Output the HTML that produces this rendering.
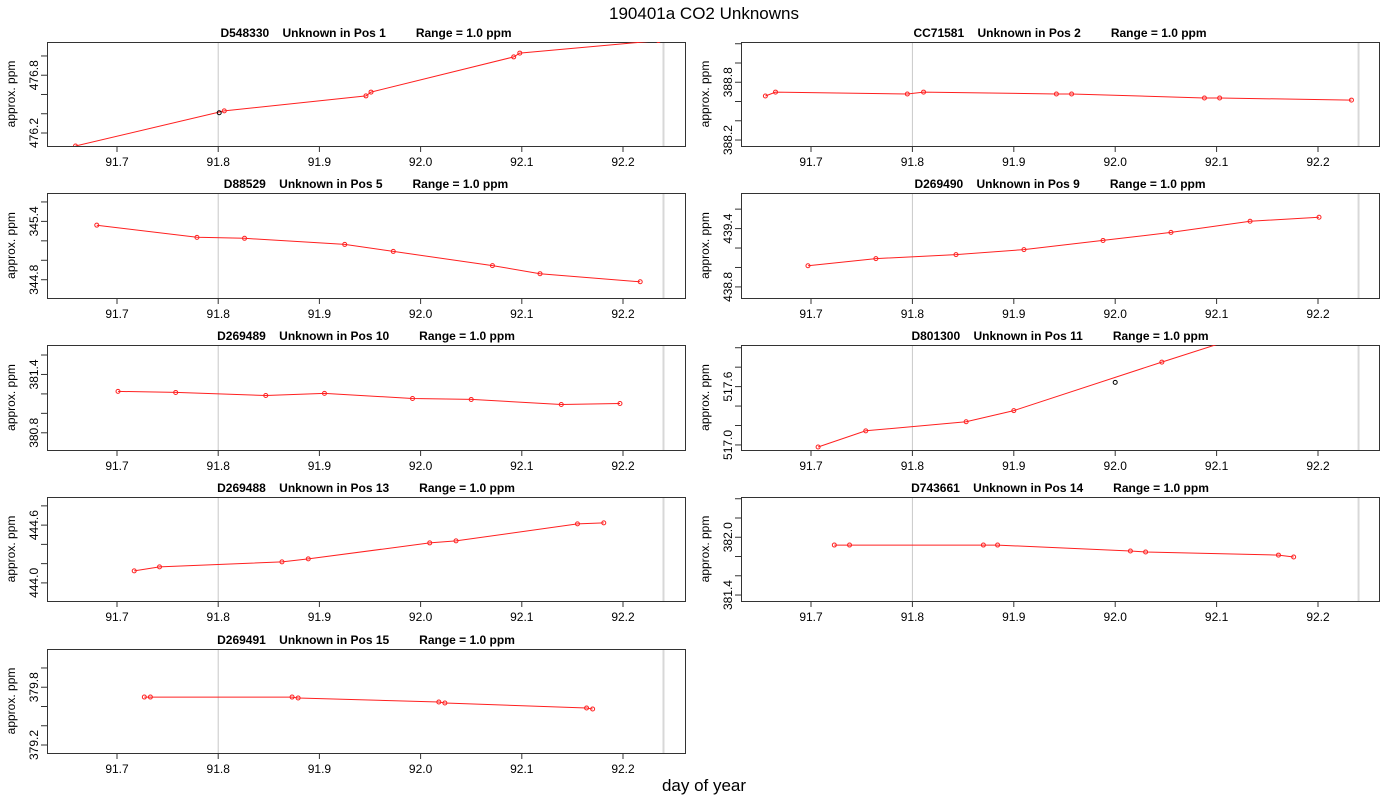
<!DOCTYPE html>
<html><head><meta charset="utf-8">
<style>
html,body{margin:0;padding:0;background:#fff;}
svg{display:block;font-family:"Liberation Sans",sans-serif;}
</style></head>
<body>
<svg id="chart" width="1400" height="800" viewBox="0 0 1400 800">
<text x="704" y="19" font-size="17" text-anchor="middle">190401a  CO2 Unknowns</text>
<text x="704" y="791" font-size="17" text-anchor="middle">day of year</text>
</svg>
<script>
const xTicks = [91.7, 91.8, 91.9, 92.0, 92.1, 92.2];
const xTickLabels = ["91.7", "91.8", "91.9", "92.0", "92.1", "92.2"];
const panelNames = ["D548330","CC71581","D88529","D269490","D269489","D801300","D269488","D743661","D269491"];
const panelPos = ["1","2","5","9","10","11","13","14","15"];
const yLows = [476.065, 388.138, 344.612, 438.686, 380.623, 516.948, 443.812, 381.338, 379.117];
const yLabelStarts = [476.2, 388.2, 344.8, 438.8, 380.8, 517.0, 444.0, 381.4, 379.2];
const p1Days = [91.659, 91.806, 91.946, 91.951, 92.092, 92.098, 92.235];
const p1Vals = [476.065, 476.43, 476.585, 476.625, 476.99, 477.03, 477.16];
const p1RefDays = [91.801];
const p1RefVals = [476.41];
const p2Days = [91.655, 91.665, 91.795, 91.811, 91.942, 91.957, 92.088, 92.103, 92.233];
const p2Vals = [388.657, 388.698, 388.678, 388.698, 388.678, 388.678, 388.636, 388.636, 388.615];
const p3Days = [91.680, 91.779, 91.826, 91.925, 91.973, 92.071, 92.118, 92.217];
const p3Vals = [345.361, 345.236, 345.226, 345.163, 345.091, 344.945, 344.862, 344.779];
const p4Days = [91.697, 91.764, 91.843, 91.910, 91.988, 92.055, 92.133, 92.201];
const p4Vals = [439.018, 439.091, 439.132, 439.184, 439.278, 439.361, 439.475, 439.517];
const p5Days = [91.701, 91.758, 91.847, 91.905, 91.992, 92.050, 92.139, 92.197];
const p5Vals = [381.226, 381.215, 381.184, 381.205, 381.153, 381.143, 381.091, 381.101];
const p6Days = [91.707, 91.754, 91.853, 91.900, 92.046, 92.15];
const p6Vals = [516.979, 517.145, 517.239, 517.353, 517.852, 518.2];
const p6RefDays = [92.0];
const p6RefVals = [517.644];
const p7Days = [91.717, 91.742, 91.863, 91.889, 92.009, 92.035, 92.155, 92.181];
const p7Vals = [444.125, 444.166, 444.218, 444.249, 444.415, 444.436, 444.613, 444.623];
const p8Days = [91.723, 91.738, 91.870, 91.884, 92.015, 92.030, 92.161, 92.176];
const p8Vals = [381.919, 381.919, 381.919, 381.919, 381.857, 381.847, 381.815, 381.795];
const p9Days = [91.727, 91.733, 91.873, 91.879, 92.018, 92.024, 92.164, 92.170];
const p9Vals = [379.698, 379.698, 379.698, 379.688, 379.647, 379.636, 379.584, 379.574];

const allDays = [p1Days,p2Days,p3Days,p4Days,p5Days,p6Days,p7Days,p8Days,p9Days];
const allVals = [p1Vals,p2Vals,p3Vals,p4Vals,p5Vals,p6Vals,p7Vals,p8Vals,p9Vals];
const allRefDays = [p1RefDays,[],[],[],[],p6RefDays,[],[],[]];
const allRefVals = [p1RefVals,[],[],[],[],p6RefVals,[],[],[]];

const NS = "http://www.w3.org/2000/svg";
const svg = document.getElementById('chart');
const rows = [[42,146],[193,298],[345,450],[497,601],[649,753]];
const cols = [{x0:47,x1:685,a:117,b:623},{x0:741,x1:1379,a:811,b:1318}];
function mk(tag, attrs, parent){
  const e = document.createElementNS(NS, tag);
  for (const k in attrs) e.setAttribute(k, attrs[k]);
  (parent||svg).appendChild(e);
  return e;
}
panelNames.forEach((name, i) => {
  const r = rows[Math.floor(i/2)], c = cols[i%2];
  const top = r[0], bot = r[1];
  const xs = d => c.a + (d - 91.7) * (c.b - c.a) / 0.5;
  const lo = yLows[i], hi = lo + 1.08;
  const ys = v => bot - (v - lo) / (hi - lo) * (bot - top);
  const g = mk('g', {});
  
  
  const clipId = 'clip' + i;
  const cp = mk('clipPath', {id: clipId}, g);
  mk('rect', {x: c.x0, y: top, width: c.x1 - c.x0, height: bot - top}, cp);
  const v1 = mk('line', {x1: xs(91.8), x2: xs(91.8), y1: top, y2: bot, stroke: '#c8c8c8', 'stroke-width': 1}, g);
  
  
  const v2 = mk('line', {x1: xs(92.24), x2: xs(92.24), y1: top, y2: bot, stroke: '#d8d8d8', 'stroke-width': 2}, g);
  
  
  const box = mk('rect', {x: c.x0 + 0.5, y: top + 0.5, width: c.x1 - c.x0, height: bot - top, fill: 'none', stroke: '#333', 'stroke-width': 1}, g);
  
  
  const t = mk('text', {x: (c.x0 + c.x1) / 2, y: top - 5, 'font-size': 12, 'font-weight': 'bold', 'text-anchor': 'middle', 'xml:space': 'preserve', style: 'white-space:pre'}, g);
  t.textContent = name + '    Unknown in Pos ' + panelPos[i] + '         Range = 1.0 ppm';
  
  
  xTicks.forEach((d, k) => {
    const x = xs(d);
    const tk = mk('line', {x1: x, x2: x, y1: bot, y2: bot + 6, stroke: '#333'}, g);
    
    
    const tl = mk('text', {x: x, y: bot + 20, 'font-size': 12, 'text-anchor': 'middle'}, g);
    tl.textContent = xTickLabels[k];
    
    
  });
  const first = Math.ceil(lo / 0.2 - 1e-6);
  const startK = Math.round(yLabelStarts[i] / 0.2);
  for (let k = first; k * 0.2 <= hi + 1e-6; k++) {
    const v = k * 0.2, y = ys(v);
    const tk = mk('line', {x1: c.x0 - 6, x2: c.x0, y1: y, y2: y, stroke: '#333'}, g);
    
    
    if (k >= startK && (k - startK) % 3 === 0) {
      const tl = mk('text', {x: c.x0 - 9, y: y, 'font-size': 12, 'text-anchor': 'middle', transform: 'rotate(-90 ' + (c.x0 - 9) + ' ' + y + ')'}, g);
      tl.textContent = v.toFixed(1);
      
      
    }
  }
  const yl = mk('text', {x: c.x0 - 32, y: (top + bot) / 2, 'font-size': 12, 'text-anchor': 'middle', transform: 'rotate(-90 ' + (c.x0 - 32) + ' ' + ((top + bot) / 2) + ')'}, g);
  yl.textContent = 'approx. ppm';
  
  
  const sg = mk('g', {'clip-path': 'url(#' + clipId + ')'}, g);
  const days = allDays[i], vals = allVals[i];
  const pts = days.map((d, k) => xs(d).toFixed(1) + ',' + ys(vals[k]).toFixed(1)).join(' ');
  const pl = mk('polyline', {points: pts, fill: 'none', stroke: '#ff2020', 'stroke-width': 1}, sg);
  
  
  days.forEach((d, k) => {
    const pt = mk('circle', {cx: xs(d), cy: ys(vals[k]), r: 2, fill: 'none', stroke: '#ff2020', 'stroke-width': 1}, sg);
    
    
  });
  allRefDays[i].forEach((d, k) => {
    const pt = mk('circle', {cx: xs(d), cy: ys(allRefVals[i][k]), r: 2, fill: 'none', stroke: '#000', 'stroke-width': 1}, sg);
    
    
  });
});
</script>
</body></html>
